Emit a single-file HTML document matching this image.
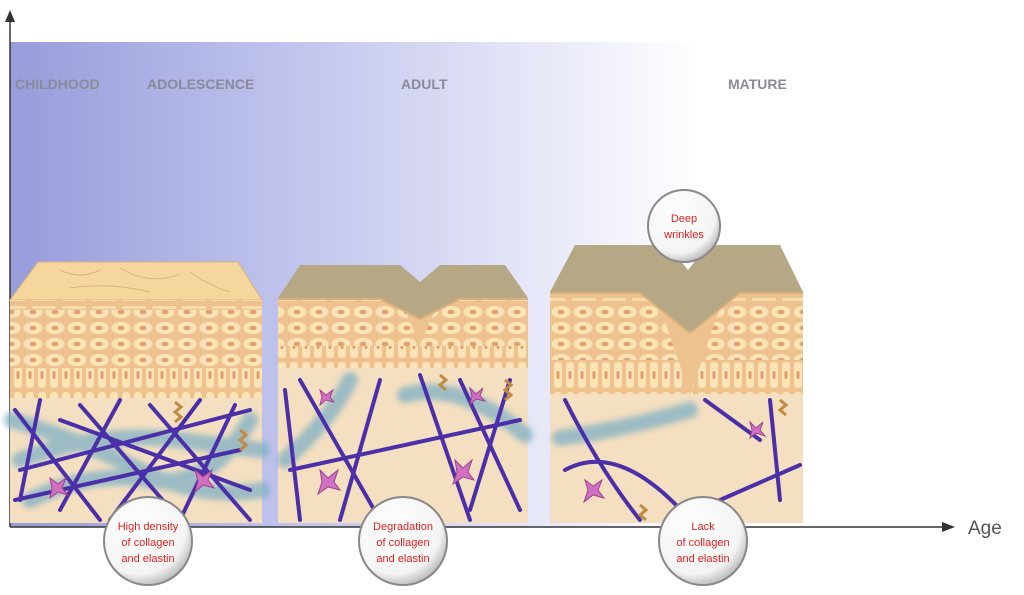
<!DOCTYPE html>
<html><head><meta charset="utf-8"><style>
html,body{margin:0;padding:0;background:#fff;}
svg{display:block;font-family:"Liberation Sans",sans-serif;}
</style></head><body>
<svg width="1024" height="595" viewBox="0 0 1024 595" xmlns="http://www.w3.org/2000/svg">
<defs>
<linearGradient id="bg" x1="0" x2="1" y1="0" y2="0">
<stop offset="0" stop-color="#979cdb"/><stop offset="0.45" stop-color="#c5c8ee"/><stop offset="1" stop-color="#ffffff"/>
</linearGradient>
<pattern id="cells" width="22" height="16" patternUnits="userSpaceOnUse">
<rect width="22" height="16" fill="#eec28f"/>
<ellipse cx="11" cy="8" rx="9.5" ry="6" fill="#fbe3b5"/>
<ellipse cx="11" cy="8" rx="3.5" ry="2.2" fill="#e0a070"/>
</pattern>
<pattern id="basal" width="12" height="30" patternUnits="userSpaceOnUse">
<rect width="12" height="30" fill="#eec28f"/>
<rect x="2" y="2" width="8" height="26" rx="3" fill="#fbe3b5"/>
<rect x="4.5" y="11" width="3" height="8" rx="1.5" fill="#e0a070"/>
</pattern>
<pattern id="strat" width="30" height="8" patternUnits="userSpaceOnUse">
<rect width="30" height="8" fill="#eec28f"/>
<rect x="2" y="2" width="24" height="3" rx="1.5" fill="#f9dcad"/>
</pattern>
<radialGradient id="ball" cx="0.4" cy="0.35" r="0.7">
<stop offset="0" stop-color="#ffffff"/><stop offset="0.75" stop-color="#f4f4f4"/><stop offset="1" stop-color="#b0b0b0"/>
</radialGradient>
<filter id="blur"><feGaussianBlur stdDeviation="3"/></filter>
</defs>
<rect x="10" y="42" width="690" height="485" fill="url(#bg)"/>
<line x1="10" y1="527" x2="10" y2="18" stroke="#333" stroke-width="1.5"/>
<polygon points="10,10 5,22 15,22" fill="#333"/>
<line x1="10" y1="527" x2="945" y2="527" stroke="#333" stroke-width="1.5"/>
<polygon points="955,527 942,522 942,532" fill="#333"/>
<text x="968" y="534" font-size="19" fill="#555">Age</text>
<g font-size="14" fill="#8a8a98" font-weight="bold">
<text x="15" y="89">CHILDHOOD</text><text x="147" y="89">ADOLESCENCE</text>
<text x="401" y="89">ADULT</text><text x="728" y="89">MATURE</text></g>

<!-- block 1 -->
<polygon points="38,262 238,262 262,300 10,300" fill="#f5d79e" stroke="#d9b57c"/>
<path d="M60,270 q20,10 40,0 M120,268 q30,18 60,6 M190,272 q20,14 40,20 M70,288 q40,-6 80,4" stroke="#d7b37a" fill="none"/>
<rect x="10" y="300" width="252" height="10" fill="url(#strat)"/>
<rect x="10" y="310" width="252" height="58" fill="url(#cells)"/>
<rect x="10" y="368" width="252" height="30" fill="url(#basal)"/>
<rect x="10" y="398" width="252" height="125" fill="#f4dfc0"/>
<!-- block 2 -->
<rect x="278" y="298" width="250" height="8" fill="url(#strat)"/>
<rect x="278" y="306" width="250" height="40" fill="url(#cells)"/>
<rect x="278" y="346" width="250" height="22" fill="url(#basal)"/>
<path d="M400,298 L420,345 L440,298 Z" fill="#eec28f"/>
<polygon points="278,298 300,265 400,265 420,282 440,265 505,265 528,298 460,298 420,318 380,298" fill="#b6a885"/>
<path d="M278,299 L380,299 L420,319 L460,299 L528,299" stroke="#d8b07a" fill="none" stroke-width="2"/>
<rect x="278" y="368" width="250" height="155" fill="#f4dfc0"/>
<!-- block 3 -->
<rect x="550" y="290" width="253" height="12" fill="url(#strat)"/>
<rect x="550" y="302" width="253" height="58" fill="url(#cells)"/>
<rect x="550" y="360" width="253" height="34" fill="url(#basal)"/>
<path d="M655,292 L690,395 L725,292 Z" fill="#eec28f"/>
<polygon points="550,292 575,245 668,245 688,270 708,245 780,245 803,292 740,292 690,332 640,292" fill="#b6a885"/>
<path d="M550,293 L640,293 L690,333 L740,293 L803,293" stroke="#d8b07a" fill="none" stroke-width="2"/>
<rect x="550" y="394" width="253" height="129" fill="#f4dfc0"/>

<g stroke="#7fb0c4" stroke-width="16" fill="none" opacity="0.75" filter="url(#blur)" stroke-linecap="round">
<path d="M12,420 Q80,440 140,470 T262,490"/>
<path d="M20,460 Q100,430 180,440 T262,450"/>
<path d="M30,500 Q90,470 150,480 T250,420"/>
<path d="M285,460 Q330,420 350,380"/>
<path d="M405,395 Q460,380 525,435"/>
<path d="M560,438 Q620,430 690,410"/>
</g>
<g stroke="#4a2fa8" stroke-width="4" fill="none" stroke-linecap="round">
<path d="M15,410 L100,520 M40,400 L20,500 M80,405 L180,520 M120,400 L60,510 M150,405 L250,520 M200,400 L110,520 M235,405 L180,520 M20,470 L250,410 M15,500 L240,450 M60,420 L250,490"/>
<path d="M285,390 L300,520 M300,380 L380,520 M380,380 L340,520 M420,375 L470,520 M460,380 L520,510 M510,380 L470,510 M290,470 L520,420"/>
<path d="M565,400 Q600,470 640,520 M565,470 Q620,440 690,520 M705,400 L760,440 M720,500 L800,465 M770,400 L780,500"/>
</g>
<g fill="#d070c0" stroke="#a04090">
<polygon points="50,478 58,484 66,478 62,488 68,495 58,492 50,498 52,488"/>
<polygon points="195,470 203,477 212,470 208,480 214,488 203,485 195,492 198,481"/>
<polygon points="320,470 328,478 338,470 334,482 340,490 328,487 318,494 322,482"/>
<polygon points="455,460 463,468 472,460 468,472 474,480 463,477 453,484 457,472"/>
<polygon points="320,390 326,395 333,390 330,397 334,402 326,400 320,405 322,397"/>
<polygon points="470,388 476,394 483,388 480,396 485,401 476,399 470,404 472,396"/>
<polygon points="585,480 593,486 602,480 598,490 604,498 593,495 584,502 588,490"/>
<polygon points="750,422 756,428 763,422 760,430 765,436 756,433 750,438 752,430"/>
</g>
<g stroke="#c08a40" stroke-width="3" fill="none">
<path d="M175,402 l6,5 -6,5 6,5 -6,5"/><path d="M240,430 l6,5 -6,5 6,5 -6,5"/>
<path d="M440,375 l6,5 -6,5 6,5"/><path d="M505,380 l6,5 -6,5 6,5 -6,5"/>
<path d="M780,400 l6,5 -6,5 6,5"/><path d="M640,505 l6,5 -6,5 6,5"/>
</g>

<g font-size="11" fill="#e02020" text-anchor="middle">
<circle cx="148" cy="541" r="44" fill="url(#ball)" stroke="#888" stroke-width="2"/>
<text x="148" y="530">High density</text><text x="148" y="546">of collagen</text><text x="148" y="562">and elastin</text>
<circle cx="403" cy="541" r="44" fill="url(#ball)" stroke="#888" stroke-width="2"/>
<text x="403" y="530">Degradation</text><text x="403" y="546">of collagen</text><text x="403" y="562">and elastin</text>
<circle cx="703" cy="541" r="44" fill="url(#ball)" stroke="#888" stroke-width="2"/>
<text x="703" y="530">Lack</text><text x="703" y="546">of collagen</text><text x="703" y="562">and elastin</text>
<circle cx="684" cy="226" r="36" fill="url(#ball)" stroke="#888" stroke-width="2"/>
<text x="684" y="222">Deep</text><text x="684" y="238">wrinkles</text>
</g>
</svg>
</body></html>
